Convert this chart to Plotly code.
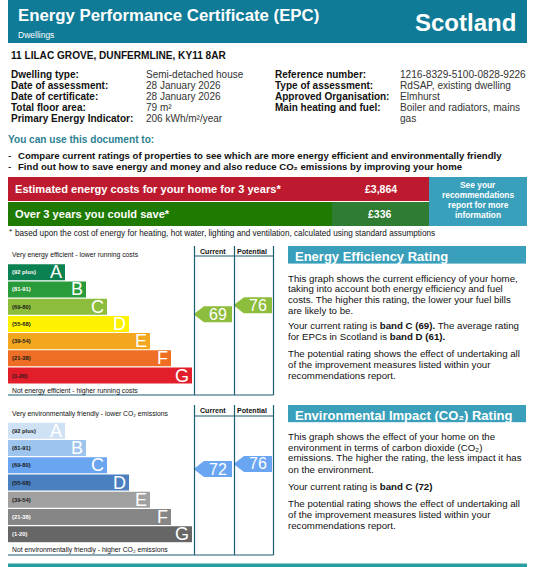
import plotly.graph_objects as go

W, H = 544, 567
FONT = "Liberation Sans"
TEAL = "#0f7b97"
BLUE_BOX = "#3a9fba"
LINE = "#1d5c6e"

bands = ["A", "B", "C", "D", "E", "F", "G"]
band_ranges = ["(92 plus)", "(81-91)", "(69-80)", "(55-68)", "(39-54)", "(21-38)", "(1-20)"]
band_lengths = [57, 78, 99, 121, 142, 163, 184]

energy_colors = ["#0b8050", "#2a9b3a", "#8dbd3c", "#fff200", "#f3a71f", "#ed6e24", "#e31e2b"]
energy_label_colors = ["#ffffff", "#ffffff", "#1a1a1a", "#1a1a1a", "#1a1a1a", "#1a1a1a", "#1a1a1a"]
env_colors = ["#cfe2f5", "#9cc4ec", "#6aa5f2", "#4a7fc0", "#a0a0a0", "#868686", "#666666"]
env_label_colors = ["#1a1a1a", "#1a1a1a", "#1a1a1a", "#1a1a1a", "#1a1a1a", "#ffffff", "#ffffff"]

energy_current, energy_potential = 69, 76
env_current, env_potential = 72, 76

details_left = [("Dwelling type:", "Semi-detached house"),
                ("Date of assessment:", "28 January 2026"),
                ("Date of certificate:", "28 January 2026"),
                ("Total floor area:", "79 m²"),
                ("Primary Energy Indicator:", "206 kWh/m²/year")]
details_right = [("Reference number:", "1216-8329-5100-0828-9226"),
                 ("Type of assessment:", "RdSAP, existing dwelling"),
                 ("Approved Organisation:", "Elmhurst"),
                 ("Main heating and fuel:", "Boiler and radiators, mains"),
                 ("", "gas")]
detail_rows = [74.7, 85.7, 96.7, 107.5, 118.5]

see_report = ["See your", "recommendations", "report for more", "information"]

energy_text = [(278, "This graph shows the current efficiency of your home,"),
               (288.5, "taking into account both energy efficiency and fuel"),
               (299, "costs. The higher this rating, the lower your fuel bills"),
               (310, "are likely to be."),
               (325.5, "Your current rating is <b>band C (69).</b> The average rating"),
               (336, "for EPCs in Scotland is <b>band D (61).</b>"),
               (353.5, "The potential rating shows the effect of undertaking all"),
               (364.5, "of the improvement measures listed within your"),
               (375, "recommendations report.")]
env_text = [(436.5, "This graph shows the effect of your home on the"),
            (447, "environment in terms of carbon dioxide (CO₂)"),
            (457.5, "emissions. The higher the rating, the less impact it has"),
            (469, "on the environment."),
            (486, "Your current rating is <b>band C (72)</b>"),
            (503, "The potential rating shows the effect of undertaking all"),
            (514, "of the improvement measures listed within your"),
            (525, "recommendations report.")]

fig = go.Figure()


def label(x, y, text, size=10, color="#111111", anchor="left", xref="x", yref="y"):
    fig.add_annotation(x=x, y=y, xref=xref, yref=yref, text=text, showarrow=False,
                       xanchor=anchor, yanchor="middle", align=anchor, borderpad=0, borderwidth=0,
                       font=dict(family=FONT, size=size, color=color))


def box(x0, y0, x1, y1, color):
    fig.add_shape(type="rect", x0=x0, y0=y0, x1=x1, y1=y1, xref="x", yref="y",
                  fillcolor=color, line_width=0, layer="below")


def rule(x0, y0, x1, y1):
    fig.add_shape(type="line", x0=x0, y0=y0, x1=x1, y1=y1, xref="x", yref="y",
                  line=dict(color=LINE, width=1.2))


def add_bars(yaxis, colors, label_colors):
    fig.add_trace(go.Bar(x=band_lengths, y=bands, orientation="h", xaxis="x2", yaxis=yaxis,
                         marker=dict(color=colors, line_width=0), width=0.93,
                         text=bands, textposition="inside", insidetextanchor="end", textangle=0,
                         constraintext="none", textfont=dict(family=FONT, size=18, color="#ffffff")))
    for band, rng, col in zip(bands, band_ranges, label_colors):
        label(4, band, "<b>%s</b>" % rng, 5.8, col, xref="x2", yref=yaxis)


def add_arrow(yaxis, value, left, color):
    # body of the pointer plus a triangle marker for its tip
    fig.add_trace(go.Bar(x=[28], base=[left], y=[value], orientation="h", xaxis="x", yaxis=yaxis,
                         width=12.6, marker=dict(color=color, line_width=0),
                         text=[str(value)], textposition="inside", insidetextanchor="middle",
                         textangle=0, constraintext="none",
                         textfont=dict(family=FONT, size=16, color="#ffffff")))
    fig.add_trace(go.Scatter(x=[left - 3.5], y=[value], mode="markers", xaxis="x", yaxis=yaxis,
                             marker=dict(symbol="triangle-left", size=14, color=color, line_width=0)))


add_bars("y2", energy_colors, energy_label_colors)
add_bars("y3", env_colors, env_label_colors)
add_arrow("y4", energy_current, 204, energy_colors[2])
add_arrow("y4", energy_potential, 244, energy_colors[2])
add_arrow("y5", env_current, 204, env_colors[2])
add_arrow("y5", env_potential, 244, env_colors[2])

# header
box(8, 0, 527, 43, TEAL)
label(18, 15.5, "<b>Energy Performance Certificate (EPC)</b>", 16.8, "#ffffff")
label(18, 35, "Dwellings", 8.5, "#ffffff")
label(465, 22, "<b>Scotland</b>", 24, "#ffffff", "center")

# address and details
label(11, 55, "<b>11 LILAC GROVE, DUNFERMLINE, KY11 8AR</b>", 10.1)
for y, (k, v) in zip(detail_rows, details_left):
    label(11, y, "<b>%s</b>" % k, 10)
    label(146, y, v, 10, "#333333")
for y, (k, v) in zip(detail_rows, details_right):
    if k:
        label(275, y, "<b>%s</b>" % k, 10)
    label(400, y, v, 10.1, "#333333")

# usage
label(8, 139.5, "<b>You can use this document to:</b>", 10.1, "#2d7f92")
label(8, 155.7, "-", 10)
label(8, 166.7, "-", 10)
label(18, 155.7, "<b>Compare current ratings of properties to see which are more energy efficient and environmentally friendly</b>", 9.6)
label(18, 166.7, "<b>Find out how to save energy and money and also reduce CO₂ emissions by improving your home</b>", 9.6)

# cost boxes
box(8, 177, 429, 201, "#bd1a2f")
box(8, 202, 332, 226, "#1e7a00")
box(332, 202, 429, 226, "#2e7d32")
box(429, 177, 527, 226, BLUE_BOX)
label(15, 189, "<b>Estimated energy costs for your home for 3 years*</b>", 11.1, "#ffffff")
label(15, 213.5, "<b>Over 3 years you could save*</b>", 11.1, "#ffffff")
label(380.5, 189, "<b>£3,864</b>", 10.5, "#ffffff", "center")
label(380, 213.5, "<b>£336</b>", 10.5, "#ffffff", "center")
for y, t in zip([185, 195, 205, 215], see_report):
    label(478, y, "<b>%s</b>" % t, 8.4, "#ffffff", "center")
label(9, 231, "*", 8)
label(15, 233, "based upon the cost of energy for heating, hot water, lighting and ventilation, calculated using standard assumptions", 8.2)

# rating chart frames
for top, head, bottom in [(246, 256, 395), (405, 416, 555)]:
    for x in (194.5, 234.5, 273.5):
        rule(x, top, x, bottom)
    rule(194.5, head, 273.5, head)
    rule(8, bottom, 273.5, bottom)
    label(213, (top + head) / 2 + 0.5, "<b>Current</b>", 7.1, anchor="center")
    label(252, (top + head) / 2 + 0.5, "<b>Potential</b>", 7.1, anchor="center")

label(12, 254.7, "Very energy efficient - lower running costs", 6.8)
label(12, 390.5, "Not energy efficient - higher running costs", 6.8)
label(12, 413.7, "Very environmentally friendly - lower CO₂ emissions", 6.8)
label(12, 549.5, "Not environmentally friendly - higher CO₂ emissions", 6.8)

# right hand panels
box(288, 246, 526, 268, BLUE_BOX)
box(288, 405, 526, 427, BLUE_BOX)
label(295, 256.5, "<b>Energy Efficiency Rating</b>", 13, "#ffffff")
label(295, 415.5, "<b>Environmental Impact (CO₂) Rating</b>", 13, "#ffffff")
for y, t in energy_text + env_text:
    label(288, y, t, 9.7)

box(8, 563.5, 527, 567, "#2a9d9f")


def paper(y_px):
    return 1 - y_px / H


hidden = dict(visible=False, fixedrange=True)
fig.update_layout(
    width=W, height=H, margin=dict(l=0, r=0, t=0, b=0), showlegend=False,
    paper_bgcolor="#ffffff", plot_bgcolor="#ffffff", barmode="overlay", hovermode=False,
    xaxis=dict(range=[0, W], domain=[0, 1], **hidden),
    yaxis=dict(range=[H, 0], domain=[0, 1], **hidden),
    xaxis2=dict(range=[0, 184], domain=[8 / W, 192 / W], anchor="y2", **hidden),
    yaxis2=dict(type="category", categoryorder="array", categoryarray=bands, range=[6.5, -0.5],
                domain=[paper(384.2), paper(263.6)], anchor="x2", **hidden),
    yaxis3=dict(type="category", categoryorder="array", categoryarray=bands, range=[6.5, -0.5],
                domain=[paper(542.8), paper(422.2)], anchor="x2", **hidden),
    yaxis4=dict(range=[13.9, 108.9], domain=[paper(384.2), paper(263.6)], anchor="x", **hidden),
    yaxis5=dict(range=[13.9, 108.9], domain=[paper(542.8), paper(422.2)], anchor="x", **hidden),
)

fig.write_html("out.html", config=dict(displayModeBar=False),
               post_script="document.body.style.margin='0';document.body.style.overflow='hidden';")
